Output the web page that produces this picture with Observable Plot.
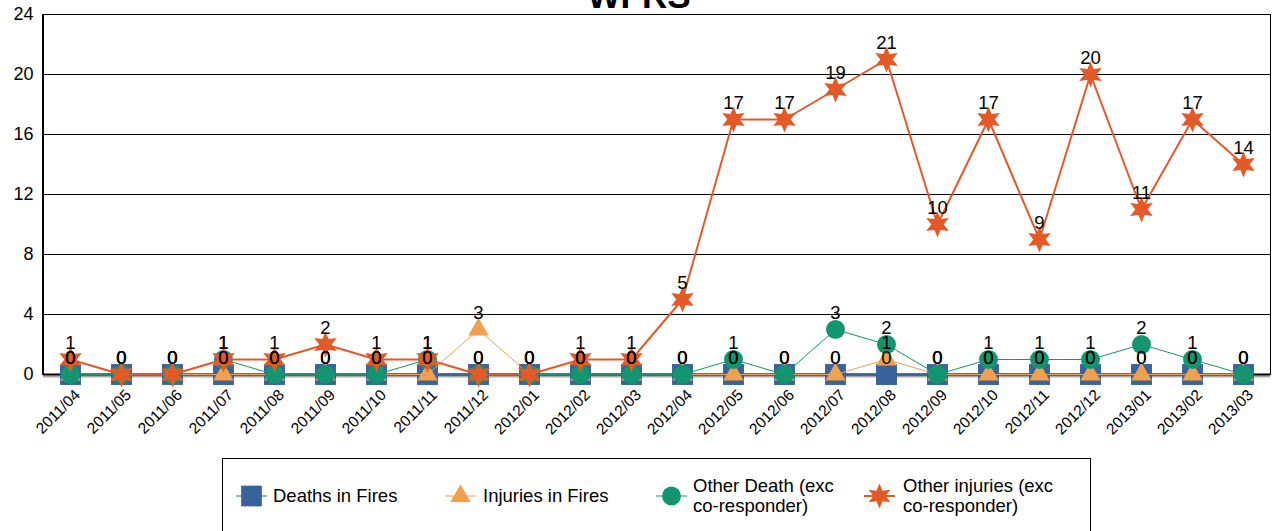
<!DOCTYPE html>
<html>
<head>
<meta charset="utf-8">
<script src="https://cdn.jsdelivr.net/npm/d3@7"></script>
<script src="https://cdn.jsdelivr.net/npm/@observablehq/plot@0.6"></script>
<style>
  body { margin: 0; background: white; font-family: "Liberation Sans", Arial, sans-serif; }
  #wrap { position: relative; width: 1275px; height: 531px; overflow: hidden; }
  #title { position: absolute; left: 0; width: 1278px; top: -22px; line-height: 35px; text-align: center; font-size: 35px; font-weight: bold; }
  #chart { position: absolute; left: 0; top: 0; }
  #legend { position: absolute; left: 222px; top: 458px; width: 869px; height: 90px; border: 1px solid #000; box-sizing: border-box; }
  .li { position: absolute; font-size: 18.5px; line-height: 20px; color: #000; }
  .lm { position: absolute; }
</style>
</head>
<body>
<div id="wrap">
  <div id="chart"></div>
  <div id="title">WFRS</div>
  <div id="legend"></div>
</div>
<script>
const months = ["2011/04","2011/05","2011/06","2011/07","2011/08","2011/09","2011/10","2011/11","2011/12","2012/01","2012/02","2012/03","2012/04","2012/05","2012/06","2012/07","2012/08","2012/09","2012/10","2012/11","2012/12","2013/01","2013/02","2013/03"];
const deathsInFires   = [0,0,0,0,0,0,0,0,0,0,0,0,0,0,0,0,0,0,0,0,0,0,0,0];
const injuriesInFires = [0,0,0,0,0,0,0,0,3,0,0,0,0,0,0,0,1,0,0,0,0,0,0,0];
const otherDeath      = [0,0,0,1,0,0,0,1,0,0,0,0,0,1,0,3,2,0,1,1,1,2,1,0];
const otherInjuries   = [1,0,0,1,1,2,1,1,0,0,1,1,5,17,17,19,21,10,17,9,20,11,17,14];
const yTicks = [0,4,8,12,16,20,24];

const seriesNames = ["Deaths in Fires","Injuries in Fires","Other Death (exc co-responder)","Other injuries (exc co-responder)"];
const colors = ["#37649b","#f0a04e","#139670","#e35a28"];

const star6 = {
  draw(ctx, size) {
    const R = Math.sqrt(size / Math.PI), r = R * 0.48;
    for (let k = 0; k < 12; k++) {
      const a = -Math.PI / 2 + k * Math.PI / 6;
      const rad = k % 2 === 0 ? R : r;
      const x = rad * Math.cos(a), y = rad * Math.sin(a);
      if (k === 0) ctx.moveTo(x, y); else ctx.lineTo(x, y);
    }
    ctx.closePath();
  }
};

const mk = (vals) => months.map((m, i) => ({month: m, value: vals[i]}));
const d0 = mk(deathsInFires), d1 = mk(injuriesInFires), d2 = mk(otherDeath), d3s = mk(otherInjuries);
const xo = {x: "month", y: "value"};

// thick left axis line, drawn from the plot's own dimensions
const leftAxisLine = (index, scales, values, dims) => {
  const g = d3.create("svg:g");
  g.append("line")
    .attr("x1", dims.marginLeft).attr("x2", dims.marginLeft)
    .attr("y1", scales.y(24)).attr("y2", scales.y(0) + 1)
    .attr("stroke", "#000").attr("stroke-width", 2);
  return g.node();
};

const plot = Plot.plot({
  width: 1275,
  height: 450,
  marginLeft: 43,
  marginRight: 5,
  marginTop: 14,
  marginBottom: 76,
  style: {fontFamily: "Liberation Sans, Arial, sans-serif", background: "white", overflow: "visible"},
  x: {type: "point", domain: months, padding: 0.5, label: null},
  y: {domain: [0, 24], label: null},
  marks: [
    Plot.ruleY(yTicks.filter(t => t > 0 && t < 24), {stroke: "#000", strokeWidth: 1}),
    Plot.frame({stroke: "#000", strokeWidth: 1}),
    Plot.ruleY([0], {stroke: "#aaa", strokeWidth: 2, dy: 2}),
    Plot.ruleY([0], {stroke: "#000", strokeWidth: 2}),
    leftAxisLine,
    Plot.axisY({ticks: yTicks, tickSize: 0, tickPadding: 10, fontSize: 18, label: null, anchor: "left"}),
    // series 1: deaths in fires
    Plot.line(d0, {...xo, stroke: colors[0], strokeWidth: 2}),
    Plot.dot(d0, {...xo, symbol: "square", r: 11.8, fill: colors[0]}),
    // series 2: injuries in fires
    Plot.line(d1, {...xo, stroke: colors[1], strokeWidth: 1}),
    Plot.dot(d1, {...xo, symbol: "triangle", r: 7.6, fill: colors[1]}),
    // series 3: other death
    Plot.line(d2, {...xo, stroke: colors[2], strokeWidth: 1}),
    Plot.dot(d2, {...xo, symbol: "circle", r: 9.5, fill: colors[2]}),
    // series 4: other injuries
    Plot.line(d3s, {...xo, stroke: colors[3], strokeWidth: 2}),
    Plot.dot(d3s, {...xo, symbol: star6, r: 13, fill: colors[3]}),
    // data labels
    ...[d0, d1, d2, d3s].map(d => Plot.text(d, {...xo, text: "value", dy: -16, fontSize: 18.5, fill: "#000"})),
    Plot.axisX({tickSize: 0, tickRotate: -45, fontSize: 15.5, label: null, dx: 7, dy: 6})
  ]
});
document.getElementById("chart").appendChild(plot);

// legend
const legend = document.getElementById("legend");
const items = [
  {x: 236, tx: 273, sym: d3.symbolSquare, size: 430, lines: [seriesNames[0]], lw: 1},
  {x: 445, tx: 483, sym: d3.symbolTriangle, size: 180, lines: [seriesNames[1]], lw: 1},
  {x: 656, tx: 693, sym: d3.symbolCircle, size: 280, lines: ["Other Death (exc", "co-responder)"], lw: 1},
  {x: 864, tx: 903, sym: star6, size: 500, lines: ["Other injuries (exc", "co-responder)"], lw: 2}
];
items.forEach((it, i) => {
  const svg = d3.create("svg").attr("width", 32).attr("height", 30)
    .attr("class", "lm")
    .style("left", (it.x - 222 - 1) + "px").style("top", (496 - 458 - 1 - 15) + "px");
  svg.append("line").attr("x1", 0).attr("x2", 31).attr("y1", 15).attr("y2", 15)
    .attr("stroke", colors[i]).attr("stroke-width", it.lw);
  svg.append("path").attr("transform", "translate(15.5,15)")
    .attr("d", d3.symbol(it.sym, it.size)()).attr("fill", colors[i]);
  legend.appendChild(svg.node());
  const div = document.createElement("div");
  div.className = "li";
  div.style.left = (it.tx - 222 - 1) + "px";
  div.style.top = (it.lines.length === 1 ? 486 - 458 - 1 : 476 - 458 - 1) + "px";
  div.innerHTML = it.lines.join("<br>");
  legend.appendChild(div);
});
</script>
</body>
</html>
